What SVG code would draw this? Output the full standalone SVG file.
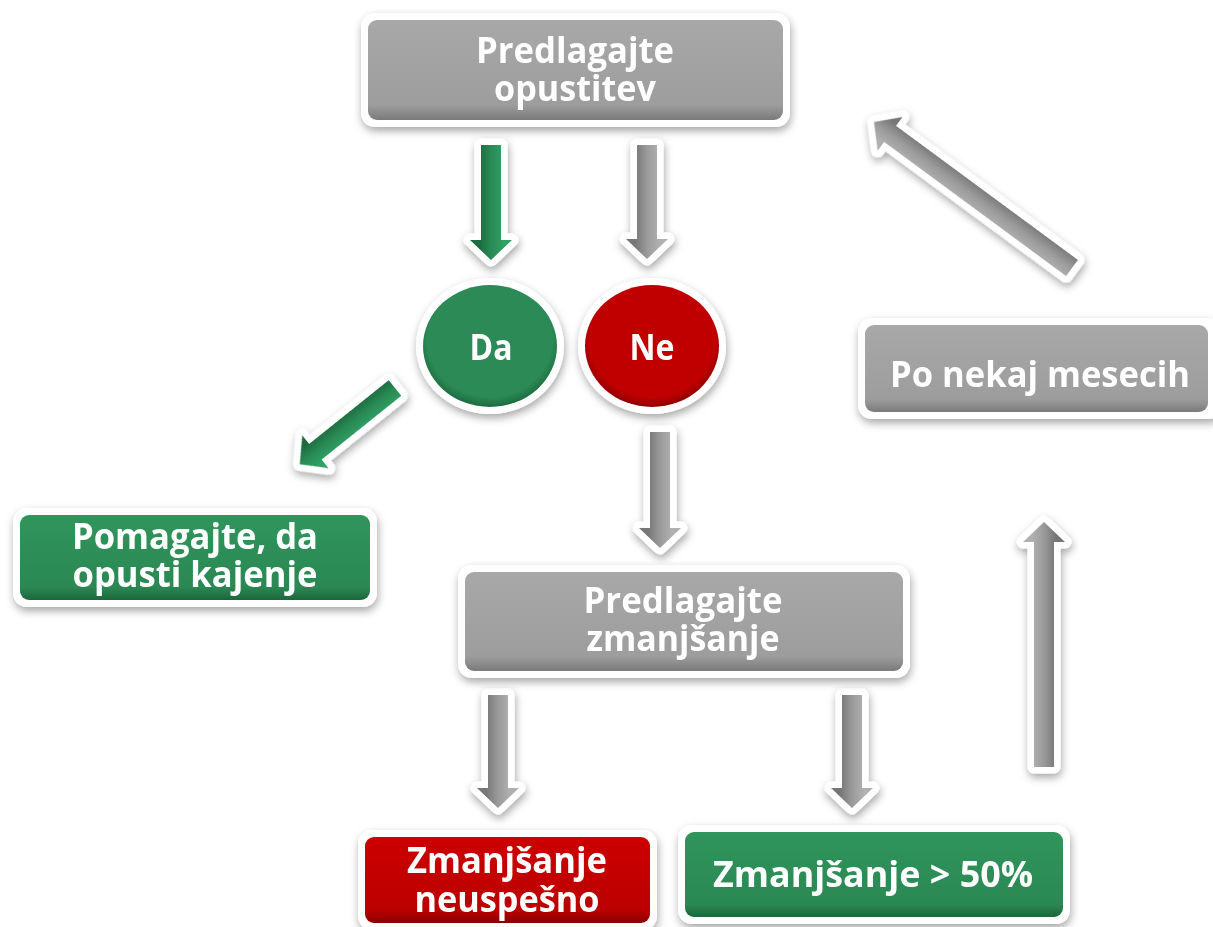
<svg xmlns="http://www.w3.org/2000/svg" width="1213" height="927" viewBox="0 0 1213 927">
  <defs>
    <filter id="sh" x="-20%" y="-20%" width="140%" height="150%">
      <feDropShadow dx="1" dy="4" stdDeviation="4" flood-color="#000" flood-opacity="0.35"/>
    </filter>
    <linearGradient id="gGray" x1="0" y1="0" x2="0" y2="1">
      <stop offset="0" stop-color="#a8a8a8"/>
      <stop offset="0.85" stop-color="#9d9d9d"/>
      <stop offset="1" stop-color="#7a7a7a"/>
    </linearGradient>
    <linearGradient id="gGreen" x1="0" y1="0" x2="0" y2="1">
      <stop offset="0" stop-color="#2f955b"/>
      <stop offset="0.85" stop-color="#2b8853"/>
      <stop offset="1" stop-color="#1c663b"/>
    </linearGradient>
    <linearGradient id="gRed" x1="0" y1="0" x2="0" y2="1">
      <stop offset="0" stop-color="#cc0000"/>
      <stop offset="0.85" stop-color="#bb0000"/>
      <stop offset="1" stop-color="#880000"/>
    </linearGradient>
    <radialGradient id="cGreen" cx="0.5" cy="0.45" r="0.55">
      <stop offset="0.85" stop-color="#2b8a55"/>
      <stop offset="1" stop-color="#1d6b40"/>
    </radialGradient>
    <radialGradient id="cRed" cx="0.5" cy="0.45" r="0.55">
      <stop offset="0.85" stop-color="#c00000"/>
      <stop offset="1" stop-color="#8e0000"/>
    </radialGradient>
    <linearGradient id="aGray" gradientUnits="userSpaceOnUse" x1="0" y1="-12" x2="0" y2="12">
      <stop offset="0" stop-color="#b0b0b0"/>
      <stop offset="0.5" stop-color="#9a9a9a"/>
      <stop offset="1" stop-color="#767676"/>
    </linearGradient>
    <linearGradient id="aGreen" gradientUnits="userSpaceOnUse" x1="0" y1="-12" x2="0" y2="12">
      <stop offset="0" stop-color="#30a062"/>
      <stop offset="0.5" stop-color="#2a8a55"/>
      <stop offset="1" stop-color="#1c6a3e"/>
    </linearGradient>
    <style>
      .wb { fill: #ffffff; }
      .lbl { font-family: "Open Sans", "Noto Sans", "Liberation Sans", sans-serif; font-weight: 700; font-size: 36px; fill: #ffffff; text-anchor: middle; }
      .arr { stroke: #ffffff; stroke-width: 13; stroke-linejoin: round; paint-order: stroke; }
      .ag { fill: url(#aGray); }
      .agr { fill: url(#aGreen); }
    </style>
  </defs>

  <g id="connectors" filter="url(#sh)">
    <path id="a1" class="arr agr" transform="translate(491,145) rotate(90)" d="M0,-10 H95 V-21 L115,0 L95,21 V10 H0 Z"/>
    <path id="a2" class="arr ag" transform="translate(647,145) rotate(90)" d="M0,-10 H94 V-21 L114,0 L94,21 V10 H0 Z"/>
    <path id="a3" class="arr agr" transform="translate(395,388) rotate(141.3)" d="M0,-10 H102 V-21 L122,0 L102,21 V10 H0 Z"/>
    <path id="a4" class="arr ag" transform="translate(660,432) rotate(90)" d="M0,-10 H96 V-21 L116,0 L96,21 V10 H0 Z"/>
    <path id="a5" class="arr ag" transform="translate(498,695) rotate(90)" d="M0,-10 H93 V-21 L113,0 L93,21 V10 H0 Z"/>
    <path id="a6" class="arr ag" transform="translate(852,695) rotate(90)" d="M0,-10 H93 V-21 L113,0 L93,21 V10 H0 Z"/>
    <path id="a7" class="arr ag" transform="translate(1044,767) rotate(-90)" d="M0,-10 H225 V-21 L245,0 L225,21 V10 H0 Z"/>
    <path id="a8" class="arr ag" transform="translate(1072,268) rotate(-143.6)" d="M0,-10 H226 V-21 L246,0 L226,21 V10 H0 Z"/>
  </g>

  <g id="n-predlagajte-opustitev">
    <rect class="wb" x="361" y="13" width="429" height="114" rx="14" filter="url(#sh)"/>
    <rect x="368" y="20" width="415" height="100" rx="9" fill="url(#gGray)"/>
    <text class="lbl"><tspan x="575" y="63" textLength="198" lengthAdjust="spacingAndGlyphs">Predlagajte</tspan><tspan x="575" y="101" textLength="162" lengthAdjust="spacingAndGlyphs">opustitev</tspan></text>
  </g>

  <g id="n-da">
    <ellipse class="wb" cx="490" cy="346" rx="74" ry="68" filter="url(#sh)"/>
    <ellipse cx="490" cy="346" rx="67" ry="61" fill="url(#cGreen)"/>
    <text class="lbl" x="491" y="360" textLength="43" lengthAdjust="spacingAndGlyphs">Da</text>
  </g>

  <g id="n-ne">
    <ellipse class="wb" cx="652" cy="346" rx="74" ry="68" filter="url(#sh)"/>
    <ellipse cx="652" cy="346" rx="67" ry="61" fill="url(#cRed)"/>
    <text class="lbl" x="652" y="360" textLength="45" lengthAdjust="spacingAndGlyphs">Ne</text>
  </g>

  <g id="n-pomagajte">
    <rect class="wb" x="13" y="508" width="364" height="99" rx="14" filter="url(#sh)"/>
    <rect x="20" y="515" width="350" height="85" rx="9" fill="url(#gGreen)"/>
    <text class="lbl"><tspan x="195" y="549" textLength="246" lengthAdjust="spacingAndGlyphs">Pomagajte, da</tspan><tspan x="195" y="587" textLength="245" lengthAdjust="spacingAndGlyphs">opusti kajenje</tspan></text>
  </g>

  <g id="n-po-nekaj-mesecih">
    <rect class="wb" x="858" y="318" width="364" height="101" rx="14" filter="url(#sh)"/>
    <rect x="865" y="325" width="343" height="87" rx="9" fill="url(#gGray)"/>
    <text class="lbl" x="1040" y="387" textLength="300" lengthAdjust="spacingAndGlyphs">Po nekaj mesecih</text>
  </g>

  <g id="n-predlagajte-zmanjsanje">
    <rect class="wb" x="458" y="565" width="452" height="113" rx="14" filter="url(#sh)"/>
    <rect x="465" y="572" width="438" height="99" rx="9" fill="url(#gGray)"/>
    <text class="lbl"><tspan x="683" y="613" textLength="199" lengthAdjust="spacingAndGlyphs">Predlagajte</tspan><tspan x="683" y="651" textLength="193" lengthAdjust="spacingAndGlyphs">zmanjšanje</tspan></text>
  </g>

  <g id="n-neuspesno">
    <rect class="wb" x="358" y="830" width="299" height="100" rx="14" filter="url(#sh)"/>
    <rect x="365" y="837" width="285" height="86" rx="9" fill="url(#gRed)"/>
    <text class="lbl"><tspan x="507" y="873" textLength="200" lengthAdjust="spacingAndGlyphs">Zmanjšanje</tspan><tspan x="507" y="912" textLength="185" lengthAdjust="spacingAndGlyphs">neuspešno</tspan></text>
  </g>

  <g id="n-zmanjsanje-50">
    <rect class="wb" x="678" y="825" width="392" height="99" rx="14" filter="url(#sh)"/>
    <rect x="685" y="832" width="378" height="85" rx="9" fill="url(#gGreen)"/>
    <text class="lbl" x="873" y="887" textLength="320" lengthAdjust="spacingAndGlyphs">Zmanjšanje &gt; 50%</text>
  </g>
</svg>
